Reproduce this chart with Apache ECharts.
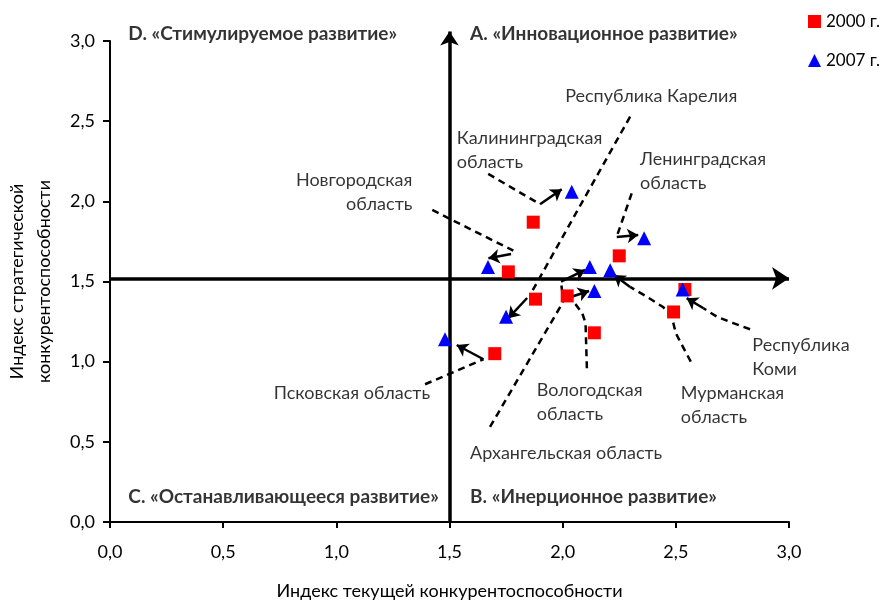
<!DOCTYPE html>
<html><head><meta charset="utf-8">
<script src="https://cdn.jsdelivr.net/npm/echarts@6.0.0/dist/echarts.min.js"></script>
<style>html,body{margin:0;padding:0;background:#fff}#c{width:882px;height:602px}</style>
</head><body><div id="c"></div>
<script>
// ---- data ----
const regions = ['Калининградская\nобласть','Новгородская\nобласть','Ленинградская\nобласть','Республика Карелия','Архангельская область','Вологодская\nобласть','Мурманская\nобласть','Республика\nКоми','Псковская область'];
const x2000 = [1.87, 1.76, 2.25, 1.88, 2.02, 2.14, 2.49, 2.54, 1.70];
const y2000 = [1.87, 1.56, 1.66, 1.39, 1.41, 1.18, 1.31, 1.45, 1.05];
const x2007 = [2.04, 1.67, 2.36, 1.75, 2.14, 2.12, 2.21, 2.53, 1.48];
const y2007 = [2.06, 1.59, 1.77, 1.28, 1.44, 1.59, 1.57, 1.45, 1.14];
const seriesNames = ['2000 г.', '2007 г.'];
const quadrantNames = ['D. «Стимулируемое развитие»','A. «Инновационное развитие»','C. «Останавливающееся развитие»','B. «Инерционное развитие»'];
const crossX = 1.5;
const crossY = 1.52;
const xTitle = 'Индекс текущей конкурентоспособности';
const yTitle = 'Индекс стратегической\nконкурентоспособности';

// ---- annotation layout (data coordinates) ----
const labelPos = [
  {x:1.532, y:2.318, align:'left'},
  {x:1.336, y:2.057, align:'right'},
  {x:2.342, y:2.19,  align:'left'},
  {x:2.011, y:2.653, align:'left'},
  {x:1.591, y:0.432, align:'left'},
  {x:1.886, y:0.75,  align:'left'},
  {x:2.522, y:0.727, align:'left'},
  {x:2.838, y:1.026, align:'left'},
  {x:1.414, y:0.803, align:'right'}
];
const quadPos = [
  {x:0.081, y:3.044}, {x:1.591, y:3.044}, {x:0.081, y:0.158}, {x:1.591, y:0.158}
];
const leaders = [
  [[1.671,2.171],[1.900,1.982]],
  [[1.424,1.946],[1.782,1.692]],
  [[2.305,2.050],[2.239,1.780]],
  [[2.298,2.528],[1.856,1.416]],
  [[1.679,0.593],[2.002,1.372]],
  [[2.107,0.959],[2.101,1.241],[2.086,1.304],[2.059,1.354],[2.024,1.404],[1.997,1.447],[1.993,1.491]],
  [[2.566,1.000],[2.500,1.177],[2.482,1.281],[2.445,1.339],[2.372,1.405],[2.298,1.466]],
  [[2.828,1.202],[2.754,1.240],[2.681,1.281],[2.622,1.333]],
  [[1.392,0.859],[1.650,1.015]]
];
const arrows = [
  [[1.900,1.982],[1.996,2.075]],
  [[1.772,1.672],[1.672,1.645]],
  [[2.239,1.778],[2.334,1.790]],
  [[1.843,1.397],[1.760,1.271]],
  [[2.015,1.394],[2.117,1.441]],
  [[1.993,1.499],[2.099,1.572]],
  [[2.298,1.466],[2.227,1.541]],
  [[2.622,1.333],[2.548,1.396]],
  [[1.650,1.015],[1.532,1.104]]
];

const FONT = 'Lato';
const FS = 18;
const fmt = v => v.toFixed(1).replace('.', ',');

const chart = echarts.init(document.getElementById('c'), null, {renderer:'canvas'});
chart.setOption({
  animation: false,
  backgroundColor: '#fff',
  textStyle: {fontFamily: FONT, color:'#000'},
  grid: {left:110, right:93, top:41, bottom:80, outerBoundsMode:'none', containLabel:false},
  legend: {
    orient:'vertical', left:808, top:13, padding:0, itemWidth:13, itemHeight:13, itemGap:22,
    textStyle:{fontFamily:FONT, fontSize:17, color:'#000'},
    data:[{name:seriesNames[0], icon:'rect'},{name:seriesNames[1], icon:'triangle'}]
  },
  xAxis: {
    type:'value', min:0, max:3, interval:0.5,
    name:xTitle, nameLocation:'middle', nameGap:60, nameMoveOverlap:false,
    nameTextStyle:{fontFamily:FONT, fontSize:FS, color:'#000'},
    axisLine:{show:true, onZero:false, lineStyle:{color:'#000', width:2}},
    axisTick:{show:true, length:6, lineStyle:{color:'#000', width:2}},
    axisLabel:{formatter:fmt, fontFamily:FONT, fontSize:FS, color:'#000', margin:21},
    splitLine:{show:false}
  },
  yAxis: {
    type:'value', min:0, max:3, interval:0.5,
    name:yTitle, nameLocation:'middle', nameGap:52, nameRotate:90, nameMoveOverlap:false,
    nameTextStyle:{fontFamily:FONT, fontSize:FS, color:'#000', lineHeight:27},
    axisLine:{show:true, onZero:false, lineStyle:{color:'#000', width:2}},
    axisTick:{show:true, length:7, lineStyle:{color:'#000', width:2}},
    axisLabel:{formatter:fmt, fontFamily:FONT, fontSize:FS, color:'#000', margin:15},
    splitLine:{show:false}
  },
  series: [
    {
      type:'lines', coordinateSystem:'cartesian2d', silent:true, clip:false, z:1,
      symbol:['none','arrow'], symbolSize:[0,17],
      lineStyle:{color:'#000', width:3.5, opacity:1, type:'solid'},
      data:[{coords:[[0,crossY],[3.0,crossY]]}]
    },
    {
      type:'lines', coordinateSystem:'cartesian2d', silent:true, clip:false, z:1,
      symbol:['none','arrow'], symbolSize:[0,14],
      lineStyle:{color:'#000', width:3.5, opacity:1, type:'solid'},
      data:[{coords:[[crossX,0],[crossX,3.06]]}]
    },
    {
      type:'lines', coordinateSystem:'cartesian2d', polyline:true, silent:true, z:2,
      symbol:['none','none'],
      lineStyle:{color:'#000', width:2.5, opacity:1, type:[7,5]},
      data: leaders.map(c => ({coords:c}))
    },
    {
      type:'lines', coordinateSystem:'cartesian2d', silent:true, z:2,
      symbol:['none','arrow'], symbolSize:[0,11],
      lineStyle:{color:'#000', width:2.5, opacity:1, type:'solid'},
      data: arrows.map(c => ({coords:c}))
    },
    {
      name:seriesNames[0], type:'scatter', symbol:'rect', symbolSize:13, z:3,
      itemStyle:{color:'#FF0000', opacity:1},
      data: x2000.map((x,i) => [x, y2000[i]])
    },
    {
      name:seriesNames[1], type:'scatter', symbol:'triangle', symbolSize:14, z:4,
      itemStyle:{color:'#0000FF', opacity:1},
      data: x2007.map((x,i) => [x, y2007[i]])
    },
    {
      type:'scatter', symbolSize:0, silent:true, clip:false, z:5,
      label:{show:true, position:[0,0], verticalAlign:'middle', fontFamily:FONT, fontSize:FS, color:'#000', lineHeight:24,
        formatter: p => p.name},
      data: regions.map((r,i) => ({name:r, value:[labelPos[i].x, labelPos[i].y], label:{align:labelPos[i].align}}))
    },
    {
      type:'scatter', symbolSize:0, silent:true, clip:false, z:5,
      label:{show:true, position:[0,0], align:'left', verticalAlign:'middle', fontFamily:FONT, fontSize:19, fontWeight:'bold', color:'#000',
        formatter: p => p.name},
      data: quadrantNames.map((q,i) => ({name:q, value:[quadPos[i].x, quadPos[i].y]}))
    }
  ]
});
</script>
</body></html>
